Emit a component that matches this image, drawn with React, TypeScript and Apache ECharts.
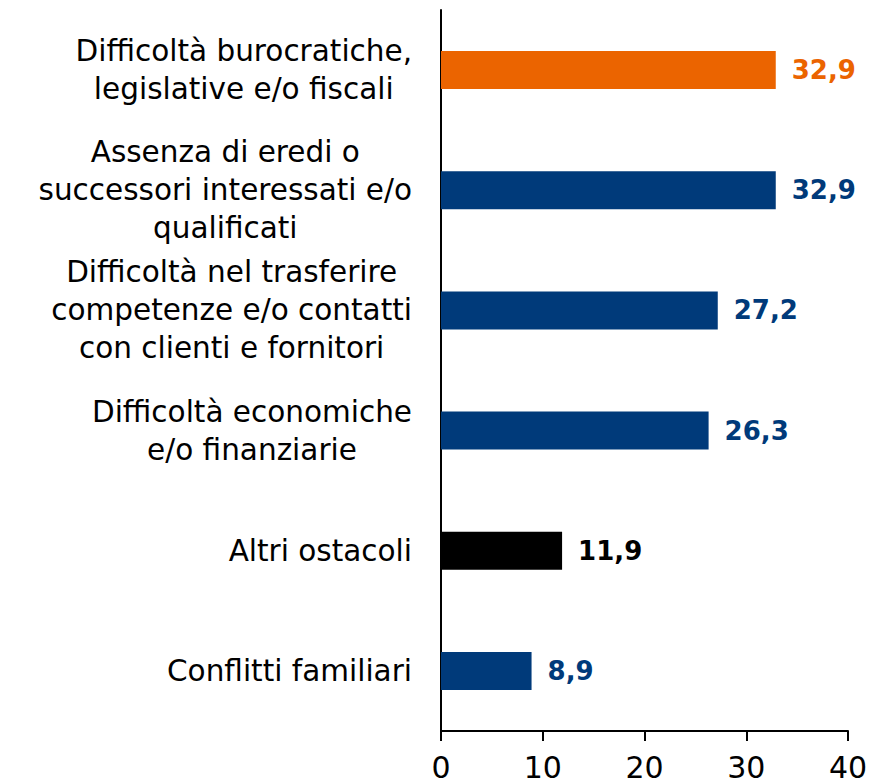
import React, { useEffect, useRef } from "react";
import * as echarts from "echarts";

const categories = [
  "Difficoltà burocratiche,\nlegislative e/o fiscali",
  "Assenza di eredi o\nsuccessori interessati e/o\nqualificati",
  "Difficoltà nel trasferire\ncompetenze e/o contatti\ncon clienti e fornitori",
  "Difficoltà economiche\ne/o finanziarie",
  "Altri ostacoli",
  "Conflitti familiari",
];
const values = [32.9, 32.9, 27.2, 26.3, 11.9, 8.9];
const barColors = ["#EB6400", "#003A7A", "#003A7A", "#003A7A", "#000000", "#003A7A"];
const xTicks = [0, 10, 20, 30, 40];

const FONT = "DejaVu Sans";

export default function App() {
  const ref = useRef<HTMLDivElement>(null);
  useEffect(() => {
    if (!ref.current) return;
    const chart = echarts.init(ref.current, null, { renderer: "svg" });
    chart.setOption({
      animation: false,
      backgroundColor: "#ffffff",
      grid: { left: 441, right: 28, top: 10, bottom: 53, containLabel: false },
      xAxis: {
        type: "value",
        min: xTicks[0],
        max: xTicks[xTicks.length - 1],
        interval: 10,
        splitLine: { show: false },
        axisLine: { show: true, lineStyle: { color: "#000", width: 2 } },
        axisTick: { show: true, length: 10, lineStyle: { color: "#000", width: 2 } },
        axisLabel: {
          margin: 21,
          fontFamily: FONT,
          fontSize: 30,
          color: "#000",
        },
      },
      yAxis: {
        type: "category",
        data: categories,
        inverse: true,
        axisLine: { show: true, lineStyle: { color: "#000", width: 2 } },
        axisTick: { show: false },
        axisLabel: {
          margin: 29,
          fontFamily: FONT,
          fontSize: 29.5,
          color: "#000",
          lineHeight: 38,
          formatter: (v: string) =>
            v
              .split("\n")
              .map((l) => `{a|${l}}`)
              .join("\n"),
          rich: {
            a: {
              align: "center",
              fontFamily: FONT,
              fontSize: 29.5,
              lineHeight: 38,
              color: "#000",
            },
          },
        },
      },
      series: [
        {
          type: "bar",
          barWidth: 38,
          data: values.map((v, i) => ({
            value: v,
            itemStyle: { color: barColors[i] },
            label: { color: barColors[i] },
          })),
          label: {
            show: true,
            position: "right",
            distance: 16,
            fontFamily: FONT,
            fontWeight: "bold",
            fontSize: 26,
            formatter: (p: any) => p.value.toFixed(1).replace(".", ","),
          },
        },
      ],
    });
    return () => chart.dispose();
  }, []);
  return (
    <div
      ref={ref}
      style={{ position: "fixed", left: 0, top: 0, width: 876, height: 784 }}
    />
  );
}
